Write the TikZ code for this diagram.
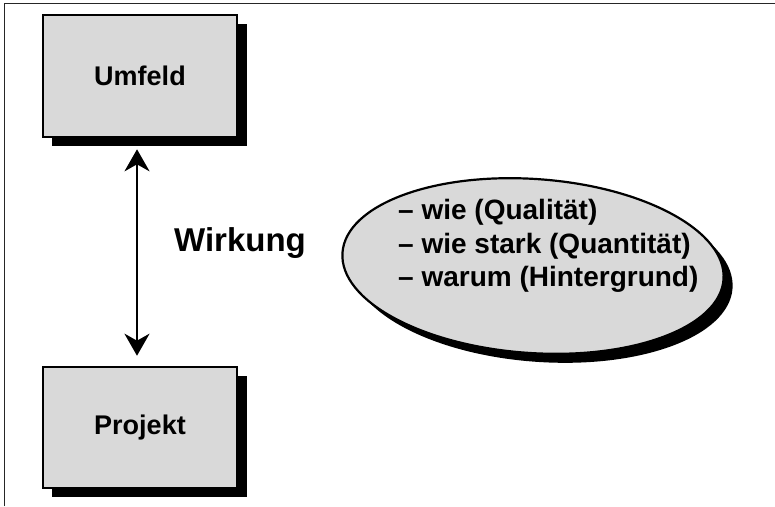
\documentclass[tikz,border=0pt]{standalone}
\usepackage{fontspec}
\setmainfont{Liberation Sans}
\usetikzlibrary{arrows.meta,shapes.geometric}
\begin{document}
\begin{tikzpicture}[x=1pt,y=-1pt,
  boxnode/.style={draw=black, line width=2.6pt, fill=black!15, minimum width=194pt, minimum height=122pt, inner sep=0pt, font=\fontsize{27}{32}\selectfont\bfseries},
  shadowfill/.style={fill=black},
  ovalnode/.style={ellipse, rotate=-4, minimum width=382pt, minimum height=174pt, inner sep=0pt},
  frameline/.style={draw=black!85, line width=1.5pt},
  link/.style={line width=2.6pt, {Stealth[length=22pt,width=25pt,inset=7pt]}-{Stealth[length=22pt,width=25pt,inset=7pt]}}
]
\useasboundingbox (0,0) rectangle (775,506);
% frame lines along top and left
\draw[frameline] (4.5,506) -- (4.5,3.5) -- (775,3.5);

% shadows
\fill[shadowfill] (52,24) rectangle (247,146);
\fill[shadowfill] (52,376) rectangle (247,497);
\node[ovalnode, shadowfill] (infoshadow) at (542,275) {};

% boxes
\node[boxnode] (umfeld) at (140,76) {Umfeld};
\node[boxnode, minimum height=121pt] (projekt) at (140,427.5) {Projekt};

% ellipse with list
\node[ovalnode, draw=black, line width=2.2pt, fill=black!15] (info) at (533,266) {};
\node[anchor=west, align=left, font=\fontsize{28}{33.5}\selectfont\bfseries, inner sep=0pt] (list) at (398,246)
  {– wie (Qualität)\\– wie stark (Quantität)\\– warum (Hintergrund)};

% connector
\draw[link] ([xshift=-3pt,yshift=-11pt]umfeld.south) -- ([xshift=-3pt,yshift=10pt]projekt.north);
\node[font=\fontsize{33}{38}\selectfont\bfseries, inner sep=0pt] (wirkung) at (240,243) {Wirkung};
\end{tikzpicture}
\end{document}
